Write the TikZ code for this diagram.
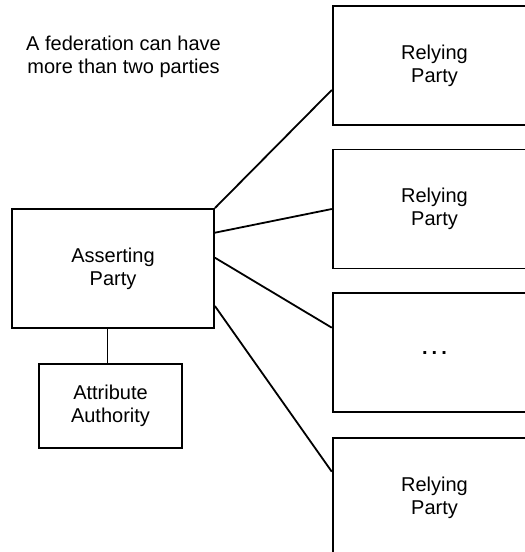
\documentclass[tikz,border=0pt]{standalone}
\usepackage{fontspec}
\setmainfont{Liberation Sans}
\begin{document}
\begin{tikzpicture}[x=1pt,y=-1pt,
  every node/.style={font=\fontsize{20}{23}\selectfont, align=center, inner sep=0pt},
  box/.style={draw, line width=1.8pt, minimum width=202pt, minimum height=119pt},
  link/.style={line width=1.8pt}]
\useasboundingbox (0,0) rectangle (525,552);
\clip (0,0) rectangle (525,552);
\node (note) at (123.5,56.5) {A federation can have\\more than two parties};
\node[box] (ap) at (113,268.5) {Asserting\\Party};
\node[box, minimum width=142.4pt, minimum height=84pt] (aa) at (110.5,406.3) {Attribute\\Authority};
\node[box, minimum width=203.6pt] (rp1) at (434.5,65.5) {Relying\\Party};
\node[box, minimum width=203.6pt] (rp2) at (434.5,209) {Relying\\Party};
\node[box, minimum width=203.6pt] (rp3) at (434.5,352.7) {\textbf{.\kern4pt.\kern4pt.}};
\node[box, minimum width=203.6pt] (rp4) at (434.5,497.5) {Relying\\Party};
\draw[link] ([xshift=-5.5pt]ap.south) -- ([xshift=-5.5pt]ap.south |- aa.north);
\draw[link] (ap.north east) -- ([yshift=-24.5pt]rp1.west);
\draw[link] ([yshift=35.8pt]ap.east) -- (rp2.west);
\draw[link] ([yshift=10.8pt]ap.east) -- ([yshift=25pt]rp3.west);
\draw[link] ([yshift=-37.5pt]ap.east) -- ([yshift=25.8pt]rp4.west);
\end{tikzpicture}
\end{document}
